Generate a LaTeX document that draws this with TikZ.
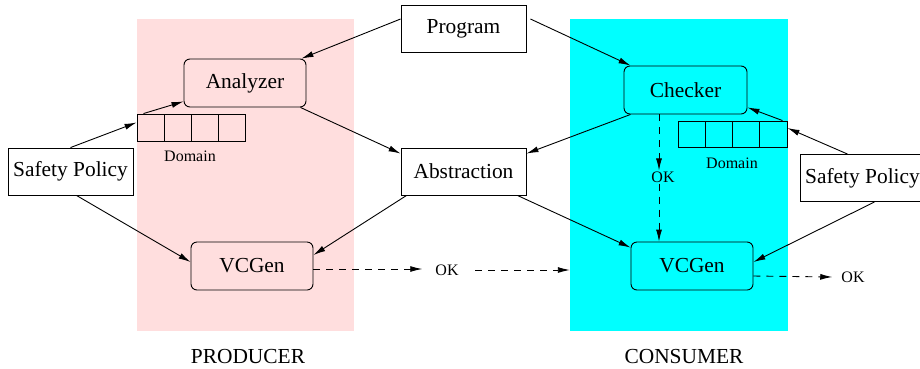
\documentclass[tikz,border=0pt]{standalone}
\usepackage{fontspec}
\setmainfont{Liberation Serif}
\usetikzlibrary{arrows.meta,calc}
\definecolor{pinkbg}{RGB}{255,222,222}
\definecolor{cyanbg}{RGB}{0,255,255}
\begin{document}
\begin{tikzpicture}[x=1pt,y=-1pt,
  every node/.style={font=\fontsize{21.4}{25}\selectfont},
  box/.style={draw, line width=0.9pt, fill=white, minimum width=125pt, minimum height=47pt, inner sep=0pt},
  rbox/.style={draw, line width=0.9pt, rounded corners=6pt, minimum width=122pt, minimum height=48pt, inner sep=0pt},
  cell/.style={draw, line width=0.9pt, minimum width=27pt, minimum height=27pt, inner sep=0pt},
  small/.style={font=\fontsize{16}{19}\selectfont, inner sep=1pt},
  bg/.style={minimum width=217pt, minimum height=312pt, inner sep=0pt},
  label/.style={font=\fontsize{21.4}{25}\selectfont},
  arr/.style={-{Latex[length=12pt,width=6pt]}, line width=0.9pt},
  darr/.style={arr, dash pattern=on 7pt off 6pt}]
\useasboundingbox (0,0) rectangle (920,368);
% backgrounds
\node[bg, fill=pinkbg] (pbg) at (245.5,175) {};
\node[bg, fill=cyanbg, minimum width=218pt] (cbg) at (679,175) {};
% boxes
\node[box] (prog) at (463.5,29) {Program};
\node[box] (abs) at (463.5,171.5) {Abstraction};
\node[box] (sp1) at (70.5,171.5) {Safety Policy};
\node[box] (sp2) at (862.5,178) {Safety Policy};
\node[rbox] (an) at (245,83) {Analyzer};
\node[rbox] (vg1) at (252,266) {VCGen};
\node[rbox, minimum width=123pt] (ck) at (685.5,90) {Checker};
\node[rbox] (vg2) at (692,266) {VCGen};
% domains
\node[cell] (d11) at (150.5,127.5) {};
\node[cell] (d12) at (177.5,127.5) {};
\node[cell] (d13) at (204.5,127.5) {};
\node[cell] (d14) at (231.5,127.5) {};
\node[small] (dl1) at (190,156) {Domain};
\node[cell, minimum height=26pt, minimum width=27.25pt] (d21) at (691.6,134) {};
\node[cell, minimum height=26pt, minimum width=27.25pt] (d22) at (718.9,134) {};
\node[cell, minimum height=26pt, minimum width=27.25pt] (d23) at (746.1,134) {};
\node[cell, minimum height=26pt, minimum width=27.25pt] (d24) at (773.4,134) {};
\node[small] (dl2) at (732,163) {Domain};
% OK labels
\node[small] (ok1) at (447,270) {OK};
\node[small] (okm) at (663,177) {OK};
\node[small] (ok2) at (853,277) {OK};
% titles
\node[label] (prod) at (248,357) {PRODUCER};
\node[label] (cons) at (684,357) {CONSUMER};
% solid arrows
\draw[arr] ([yshift=10pt]prog.west) -- ([xshift=-5pt]an.north east);
\draw[arr] ([xshift=4pt,yshift=10pt]prog.east) -- ([xshift=7pt]ck.north west);
\draw[arr] (sp1.north) -- ([yshift=5pt]d11.west);
\draw[arr] ([xshift=-7pt]d11.north) -- ([yshift=6pt]an.south west);
\draw[arr] ([xshift=6pt]sp1.south) -- ([yshift=4pt]vg1.west);
\draw[arr] ([xshift=-6pt]an.south east) -- ([yshift=-6pt]abs.north west);
\draw[arr] ([xshift=6pt]abs.south west) -- ([yshift=11pt]vg1.east);
\draw[arr] ([xshift=7pt]ck.south west) -- ([yshift=-6pt]abs.north east);
\draw[arr] ([xshift=-9pt]abs.south east) -- ([yshift=-6pt]vg2.north west);
\draw[arr] ([xshift=-15pt]sp2.north) -- ([yshift=6pt]d24.east);
\draw[arr] ([xshift=-5pt]d24.north east) -- ([yshift=7pt]ck.south east);
\draw[arr] ([xshift=12pt]sp2.south) -- ([yshift=4pt]vg2.east);
% dashed arrows
\coordinate (ckb) at ([xshift=-26.5pt]ck.south);
\draw[darr] (ckb) -- (ckb |- okm.north);
\draw[darr] (ckb |- okm.south) -- (ckb |- vg2.north);
\draw[darr] ([yshift=-3pt]vg1.east) -- ([xshift=-12pt,yshift=-3pt]vg1.east -| ok1.west);
\draw[darr] ([xshift=28pt]ok1.center) -- (ok1.center -| cbg.west);
\draw[darr] ([yshift=-10pt]vg2.east) -- ([xshift=-8pt]ok2.west);
\end{tikzpicture}
\end{document}
